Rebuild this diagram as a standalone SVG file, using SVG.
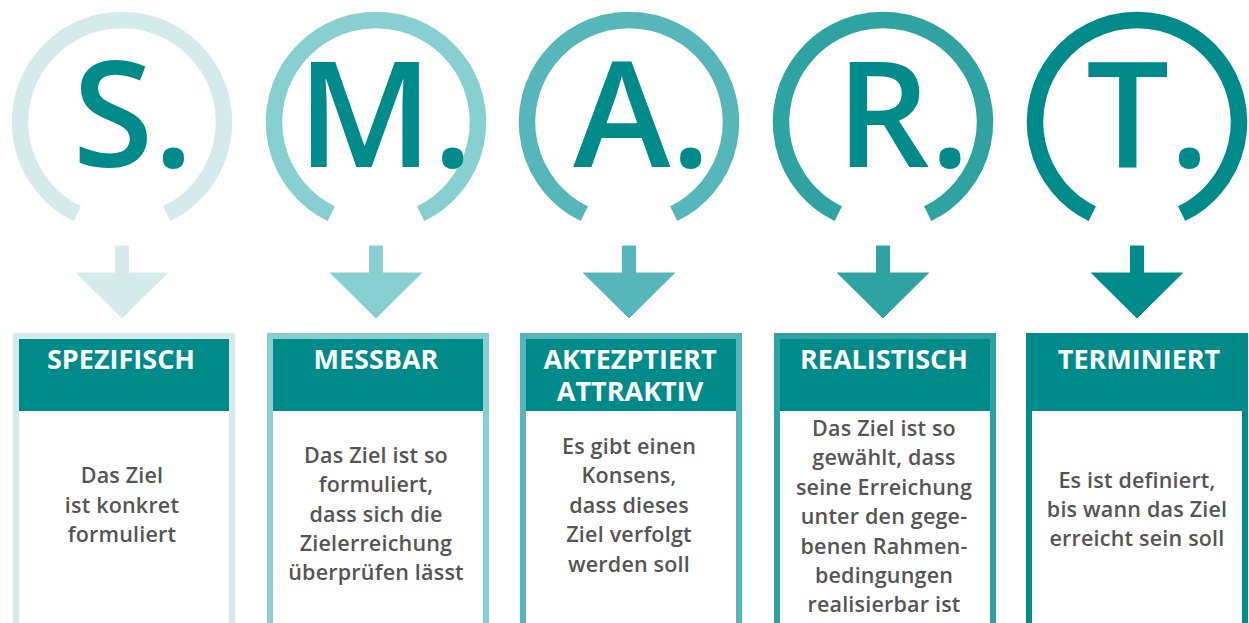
<svg xmlns="http://www.w3.org/2000/svg" width="1249" height="623" viewBox="0 0 1249 623">
<style>
.ring{fill:none;stroke-width:16.5}
.big{font-family:"Open Sans","Liberation Sans",sans-serif;font-weight:600;font-stretch:92%;font-size:147px;fill:#008b8b;text-anchor:middle}
.hd{font-family:"Open Sans","Liberation Sans",sans-serif;font-weight:700;font-stretch:92%;font-size:27px;fill:#fff;text-anchor:middle}
.bd{font-family:"Open Sans","Liberation Sans",sans-serif;font-weight:600;font-size:21.5px;letter-spacing:0.2px;fill:#555;text-anchor:middle}
.hdr{fill:#008b8b}
.c1{stroke:#d5ebeb;fill:#d5ebeb}
.c2{stroke:#88cfd2;fill:#88cfd2}
.c3{stroke:#56b6ba;fill:#56b6ba}
.c4{stroke:#2ea3a1;fill:#2ea3a1}
.c5{stroke:#008b8b;fill:#008b8b}
.box{stroke-width:6}
</style>
<defs>
<path id="ring" d="M -44.7 213.7 A 102 102 0 1 1 44.7 213.7"/>
<path id="arrow" d="M -6.5 246 H 6.5 V 273 H 45.5 L 0 318 L -45.5 273 H -6.5 Z"/>
</defs>
<g id="connectors">
<use href="#arrow" x="122" class="c1" stroke="none"/>
<use href="#arrow" x="376" class="c2" stroke="none"/>
<use href="#arrow" x="629" class="c3" stroke="none"/>
<use href="#arrow" x="883" class="c4" stroke="none"/>
<use href="#arrow" x="1137" class="c5" stroke="none"/>
</g>
<g id="S">
<use href="#ring" x="122" class="ring c1" style="fill:none"/>
<text class="big" x="133" y="167">S.</text>
<rect class="box c1" x="16" y="336" width="216" height="300" style="fill:#fff"/>
<rect class="hdr" x="19" y="339" width="210" height="72"/>
<text class="hd" x="121" y="369">SPEZIFISCH</text>
<text class="bd" x="122" y="483">Das Ziel</text>
<text class="bd" x="122" y="513">ist konkret</text>
<text class="bd" x="122" y="542">formuliert</text>
</g>
<g id="M">
<use href="#ring" x="376" class="ring c2" style="fill:none"/>
<text class="big" x="385" y="167">M.</text>
<rect class="box c2" x="270" y="336" width="216" height="300" style="fill:#fff"/>
<rect class="hdr" x="273" y="339" width="210" height="72"/>
<text class="hd" x="376" y="369">MESSBAR</text>
<text class="bd" x="376" y="463">Das Ziel ist so</text>
<text class="bd" x="376" y="492">formuliert,</text>
<text class="bd" x="376" y="522">dass sich die</text>
<text class="bd" x="376" y="551">Zielerreichung</text>
<text class="bd" x="376" y="580">überprüfen lässt</text>
</g>
<g id="A">
<use href="#ring" x="629" class="ring c3" style="fill:none"/>
<text class="big" x="642" y="167">A.</text>
<rect class="box c3" x="523" y="336" width="216" height="300" style="fill:#fff"/>
<rect class="hdr" x="526" y="339" width="210" height="72"/>
<text class="hd" x="630" y="369">AKTEZPTIERT</text>
<text class="hd" x="630" y="401">ATTRAKTIV</text>
<text class="bd" x="629" y="454">Es gibt einen</text>
<text class="bd" x="629" y="483">Konsens,</text>
<text class="bd" x="629" y="513">dass dieses</text>
<text class="bd" x="629" y="542">Ziel verfolgt</text>
<text class="bd" x="629" y="572">werden soll</text>
</g>
<g id="R">
<use href="#ring" x="883" class="ring c4" style="fill:none"/>
<text class="big" x="903" y="167">R.</text>
<rect class="box c4" x="777" y="336" width="216" height="300" style="fill:#fff"/>
<rect class="hdr" x="780" y="339" width="210" height="72"/>
<text class="hd" x="884" y="369">REALISTISCH</text>
<text class="bd" x="884" y="436">Das Ziel ist so</text>
<text class="bd" x="884" y="465">gewählt, dass</text>
<text class="bd" x="884" y="495">seine Erreichung</text>
<text class="bd" x="884" y="524">unter den gege-</text>
<text class="bd" x="884" y="554">benen Rahmen-</text>
<text class="bd" x="884" y="583">bedingungen</text>
<text class="bd" x="884" y="612">realisierbar ist</text>
</g>
<g id="T">
<use href="#ring" x="1137" class="ring c5" style="fill:none"/>
<text class="big" x="1148" y="167">T.</text>
<rect class="box c5" x="1029" y="336" width="216" height="300" style="fill:#fff"/>
<rect class="hdr" x="1032" y="339" width="210" height="72"/>
<text class="hd" x="1139" y="369">TERMINIERT</text>
<text class="bd" x="1137" y="488">Es ist definiert,</text>
<text class="bd" x="1137" y="517">bis wann das Ziel</text>
<text class="bd" x="1137" y="546">erreicht sein soll</text>
</g>
</svg>
